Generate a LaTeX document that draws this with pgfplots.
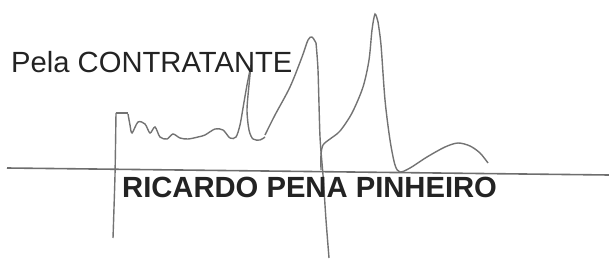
\documentclass[border=0pt]{standalone}
\usepackage{pgfplots}
\pgfplotsset{compat=1.18}
\usepackage{fontspec}
\setmainfont{Liberation Sans}
\definecolor{ink}{RGB}{115,115,115}
\definecolor{rule}{RGB}{110,110,110}
\definecolor{txt}{RGB}{35,35,35}
\begin{document}
\begin{tikzpicture}
\begin{axis}[
  scale only axis, width=609pt, height=259pt,
  xmin=0, xmax=609, ymin=0, ymax=259, y dir=reverse,
  hide axis, clip=false,
]
% base rule
\addplot[rule, line width=1.6pt] coordinates {(7,168) (609,175)};
% signature: left stroke with scribble and l-loop
\addplot[ink, line width=1.4pt, smooth, tension=0.4] coordinates {
  (113,238) (115,175) (116,113)};
\addplot[ink, line width=1.4pt] coordinates {(116,113) (128,113)};
\addplot[ink, line width=1.4pt, smooth, tension=0.5] coordinates {
  (128,114) (130,125) (132,133) (138,122) (145,124) (150,133) (155,127)
  (160,137) (167,139) (173,134) (180,138) (188,139) (198,137) (205,135)
  (215,129) (223,130) (230,138) (236,137) (240,125) (243,108) (247,85) (251,65)};
\addplot[ink, line width=1.4pt, smooth, tension=0.5] coordinates {
  (251,65) (249,85) (247,110) (249,130) (253,139) (260,140) (265,137)};
% first peak and long descender
\addplot[ink, line width=1.4pt, smooth, tension=0.5] coordinates {
  (265,135) (275,115) (290,87) (302,57) (308,40) (312,37) (316,43)};
\addplot[ink, line width=1.4pt, smooth, tension=0.4] coordinates {
  (316,43) (318,70) (320,137) (323,175) (326,220) (329,258)};
% second stroke with tall peak and tail
\addplot[ink, line width=1.4pt, smooth, tension=0.5] coordinates {
  (321,170) (321,155) (323,145) (330,139) (340,131) (352,113) (363,87)
  (369,60) (372,30) (375,14) (378,22)};
\addplot[ink, line width=1.4pt, smooth, tension=0.5] coordinates {
  (378,22) (381,45) (385,100) (390,140) (395,165) (400,172) (410,168)
  (427,157) (445,147) (458,143) (470,146) (480,153) (488,163)};
% texts
\node[anchor=base west, inner sep=0pt, text=txt, font=\fontsize{29.2}{34}\selectfont]
  at (axis cs:11,73) {Pela CONTRATANTE};
\node[anchor=base west, inner sep=0pt, text=txt, font=\fontsize{29.2}{34}\selectfont\bfseries]
  at (axis cs:122,197) {RICARDO PENA PINHEIRO};
\end{axis}
\pgfresetboundingbox
\useasboundingbox (current axis.south west) rectangle (current axis.north east);
\end{tikzpicture}
\end{document}
